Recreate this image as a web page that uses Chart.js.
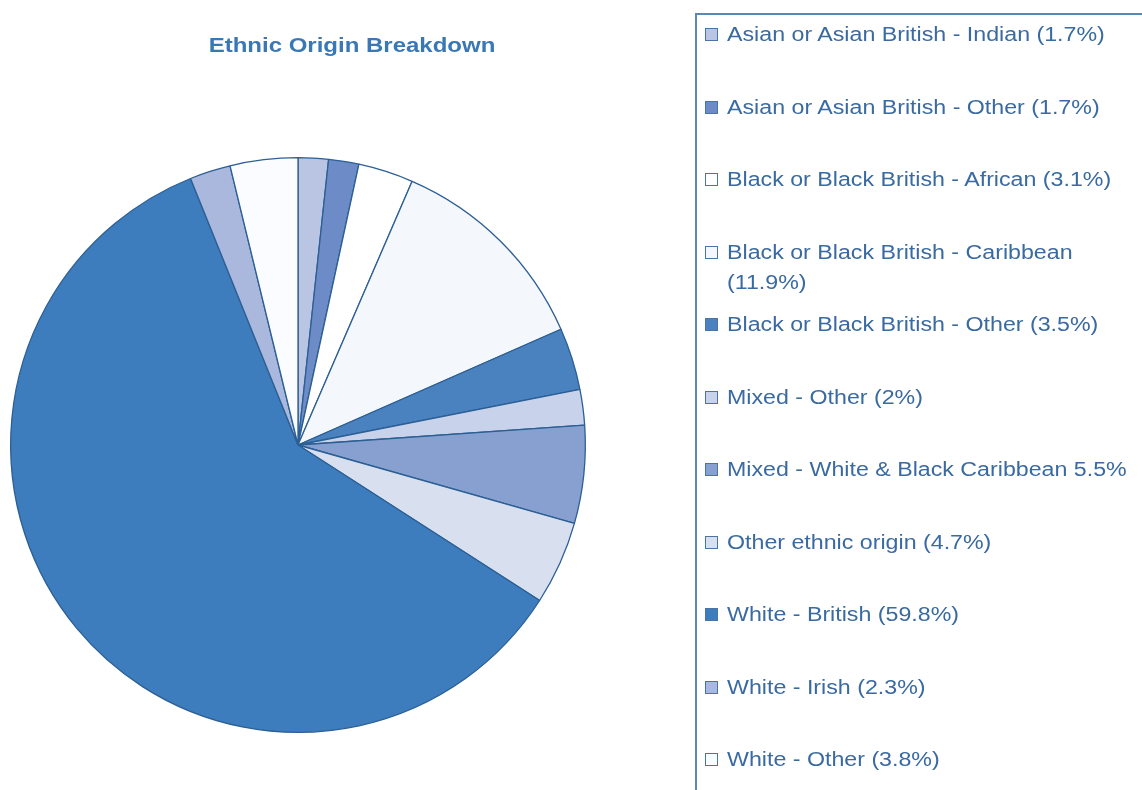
<!DOCTYPE html>
<html>
<head>
<meta charset="utf-8">
<script src="https://cdn.jsdelivr.net/npm/chart.js@4/dist/chart.umd.min.js"></script>
<style>
  html, body { margin: 0; padding: 0; background: #fff; overflow: hidden; }
  body { width: 1142px; height: 790px; position: relative; }
  #pie-wrap { position: absolute; left: 0; top: 0; width: 700px; height: 790px; }
  #title {
    position: absolute; left: 352px; top: 33px; white-space: nowrap;
    transform: translateX(-50%) scaleX(1.2);
    font-family: "Liberation Sans", Arial, sans-serif; font-weight: bold; font-size: 20px;
    color: #3a78b5; line-height: 24px;
  }
  #legend {
    position: absolute; left: 695px; top: 13px; width: 460px; height: 800px;
    border-left: 2px solid #5b87b6; border-top: 2px solid #5b87b6;
  }
  .item {
    position: absolute; left: 8px; white-space: nowrap; line-height: 30px;
    font-family: "Liberation Sans", Arial, sans-serif; font-size: 20px; color: #3a6aa2;
  }
  .box { position: absolute; left: 0; top: 9px; width: 11px; height: 11px; border: 1px solid #4d73a3; }
  .txt { position: absolute; left: 22px; top: 0; transform: scaleX(1.16); transform-origin: 0 0; }
</style>
</head>
<body>
<div id="pie-wrap"><canvas id="pie"></canvas></div>
<div id="title">Ethnic Origin Breakdown</div>
<div id="legend"></div>
<script>
const categories = [
  'Asian or Asian British - Indian',
  'Asian or Asian British - Other',
  'Black or Black British - African',
  'Black or Black British - Caribbean',
  'Black or Black British - Other',
  'Mixed - Other',
  'Mixed - White & Black Caribbean',
  'Other ethnic origin',
  'White - British',
  'White - Irish',
  'White - Other'
];
const values = [1.7, 1.7, 3.1, 11.9, 3.5, 2, 5.5, 4.7, 59.8, 2.3, 3.8];
const legendText = [
  'Asian or Asian British - Indian (1.7%)',
  'Asian or Asian British - Other (1.7%)',
  'Black or Black British - African (3.1%)',
  'Black or Black British - Caribbean\n(11.9%)',
  'Black or Black British - Other (3.5%)',
  'Mixed - Other (2%)',
  'Mixed - White & Black Caribbean 5.5%',
  'Other ethnic origin (4.7%)',
  'White - British (59.8%)',
  'White - Irish (2.3%)',
  'White - Other (3.8%)'
];
const colors = [
  '#b9c5e2', '#6d8cc7', '#ffffff', '#f4f7fc', '#4a82c0', '#c8d2ea',
  '#87a0d0', '#d8e0f0', '#3d7dbd', '#a9b8dc', '#fbfcff'
];

// legend, one row every ~72.5px
const legend = document.getElementById('legend');
legendText.forEach((t, i) => {
  const div = document.createElement('div');
  div.className = 'item';
  div.style.top = (33 - 13 - 16 + i * 72.5) + 'px';
  const box = document.createElement('span');
  box.className = 'box';
  box.style.background = colors[i];
  div.appendChild(box);
  const txt = document.createElement('span');
  txt.className = 'txt';
  txt.style.whiteSpace = 'pre';
  txt.textContent = t;
  div.appendChild(txt);
  legend.appendChild(div);
});

new Chart(document.getElementById('pie'), {
  type: 'pie',
  data: {
    labels: categories,
    datasets: [{
      data: values,
      backgroundColor: colors,
      borderColor: '#2c5f94',
      borderWidth: 1.3
    }]
  },
  options: {
    responsive: true,
    maintainAspectRatio: false,
    animation: false,
    layout: { padding: { left: 10, right: 114, top: 157, bottom: 57 } },
    plugins: {
      legend: { display: false },
      tooltip: { enabled: false },
      title: { display: false }
    }
  }
});
</script>
</body>
</html>
